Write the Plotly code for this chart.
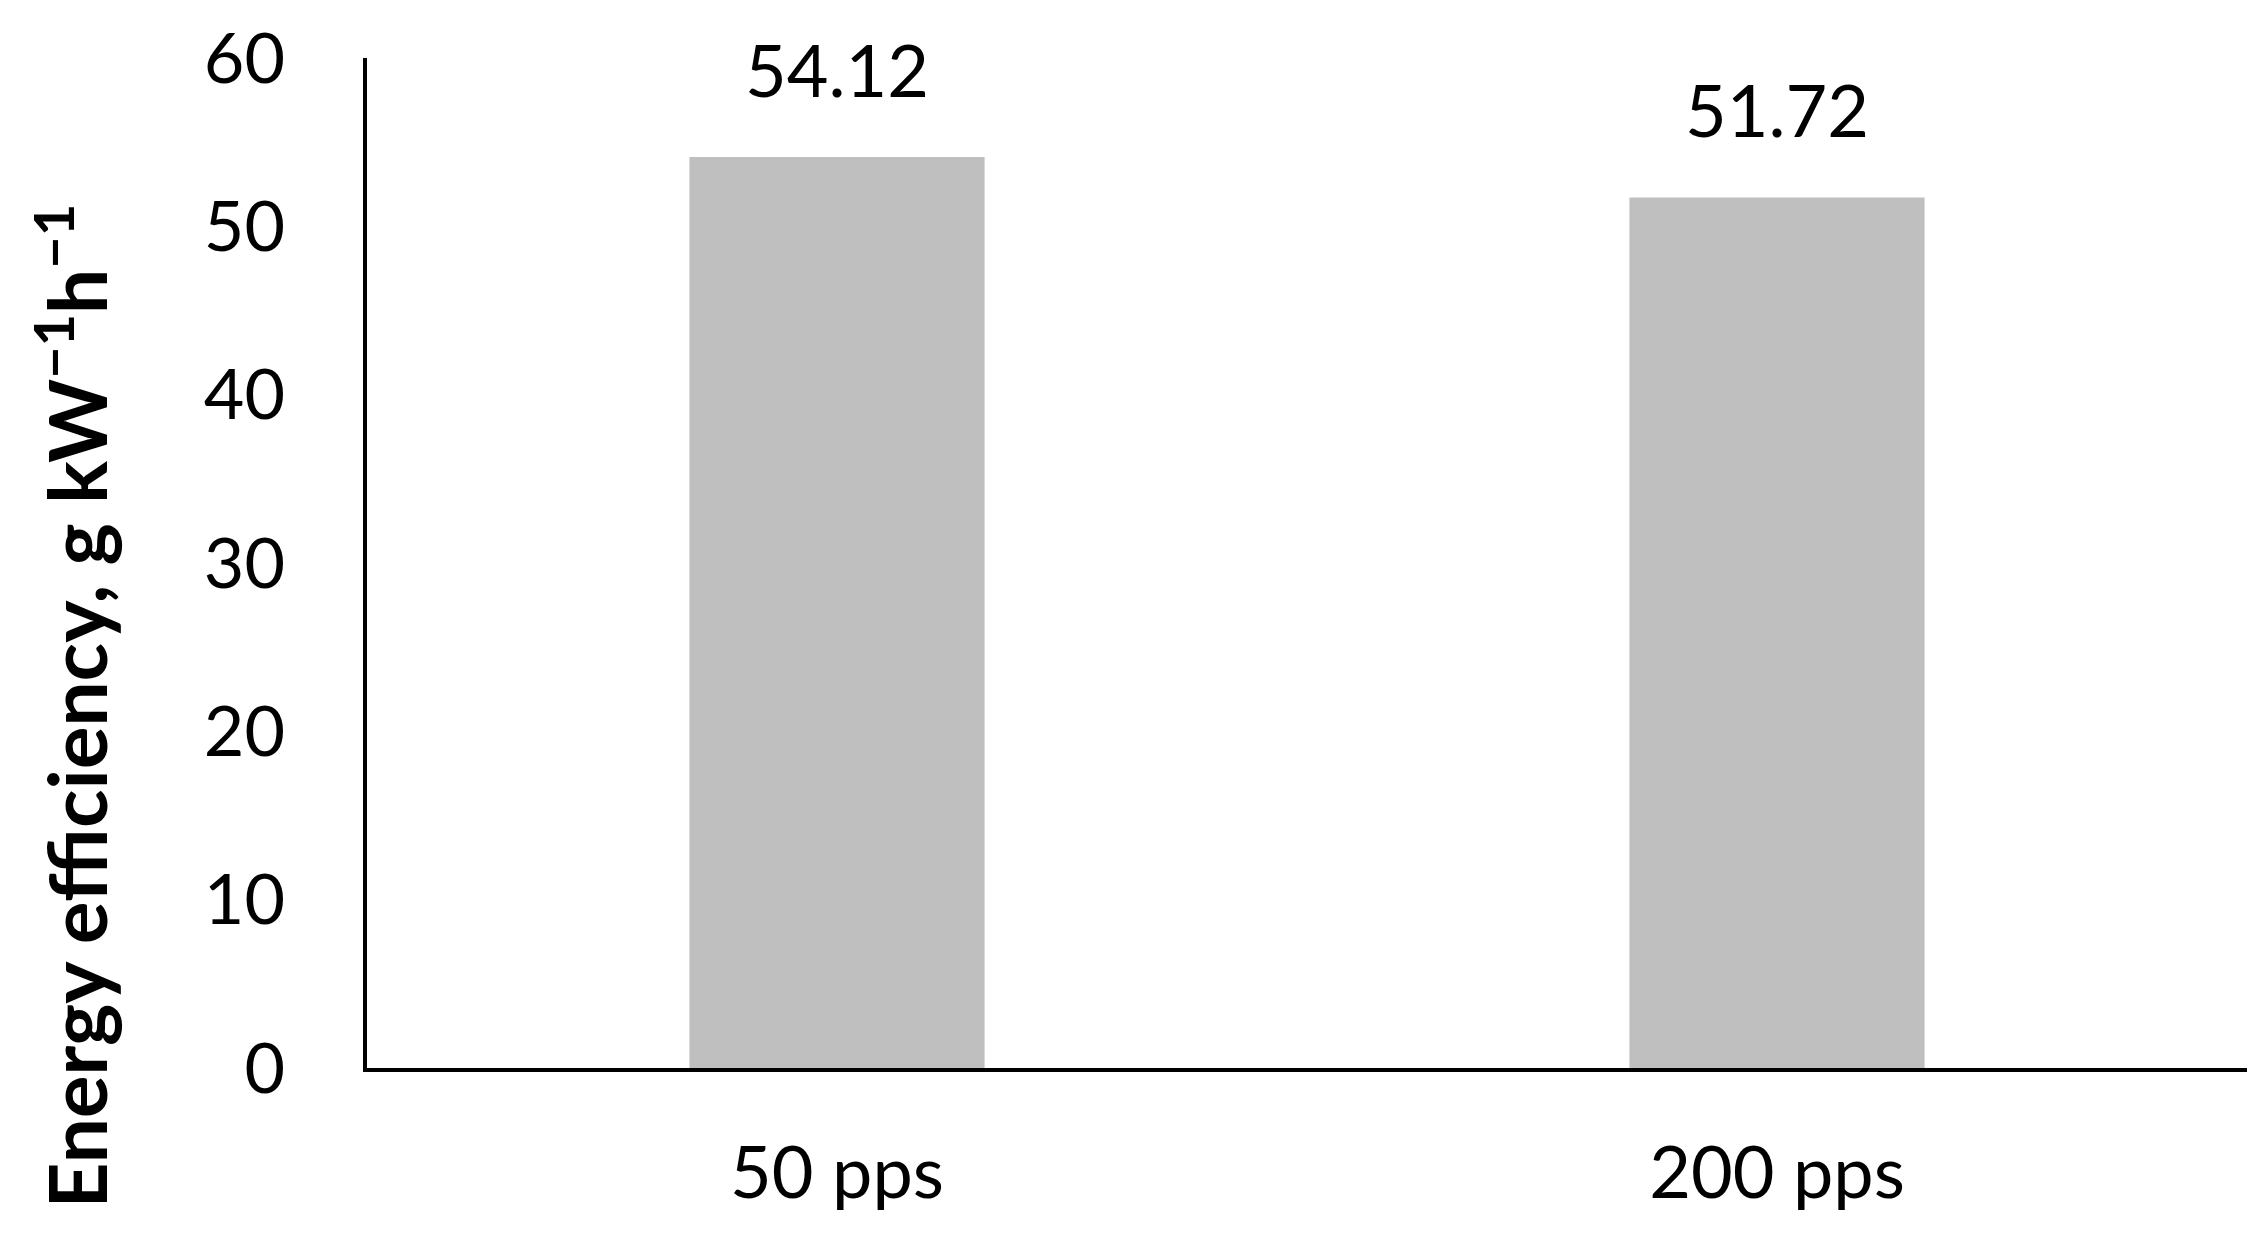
import plotly.graph_objects as go

categories = ["50 pps", "200 pps"]
efficiency = [54.12, 51.72]
y_ticks = [0, 10, 20, 30, 40, 50, 60]
y_title = "Energy efficiency, g kW<sup>\u22121</sup>h<sup>\u22121</sup>"

font_name = "Lato"
# page body has an 8px margin, so the figure is a bit smaller and margins shifted
W, H = 2243, 1221

fig = go.Figure()
fig.add_trace(go.Bar(x=categories, y=efficiency, marker_color="#BFBFBF",
                     marker_line_width=0, width=0.314))

# value labels above the bars
for c, v in zip(categories, efficiency):
    fig.add_annotation(x=c, y=v, text="%.2f" % v, showarrow=False,
                       yanchor="middle", yshift=88,
                       font=dict(family=font_name, size=72, color="black"))

# y title sits lower than the plot centre in the original, so use an annotation
fig.add_annotation(xref="paper", yref="paper", x=0, y=0.358, xshift=-295,
                   xanchor="center", yanchor="middle", textangle=-90,
                   text=y_title, showarrow=False,
                   font=dict(family=font_name, size=80, color="black", weight="bold"))

fig.update_layout(
    width=W, height=H,
    paper_bgcolor="white", plot_bgcolor="white",
    margin=dict(l=359, r=4, t=50, b=161),
    showlegend=False,
    font=dict(family=font_name, color="black"),
)
fig.update_xaxes(showline=True, linecolor="black", linewidth=4,
                 showgrid=False, ticks="", ticklabelstandoff=40,
                 automargin=False,
                 tickfont=dict(family=font_name, size=72, color="black"))
fig.update_yaxes(range=[0, 60], tickvals=y_ticks, showline=True,
                 linecolor="black", linewidth=4, showgrid=False,
                 zeroline=False, ticks="", ticklabelstandoff=64,
                 automargin=False,
                 tickfont=dict(family=font_name, size=70, color="black"))

fig.write_html("out.html")
